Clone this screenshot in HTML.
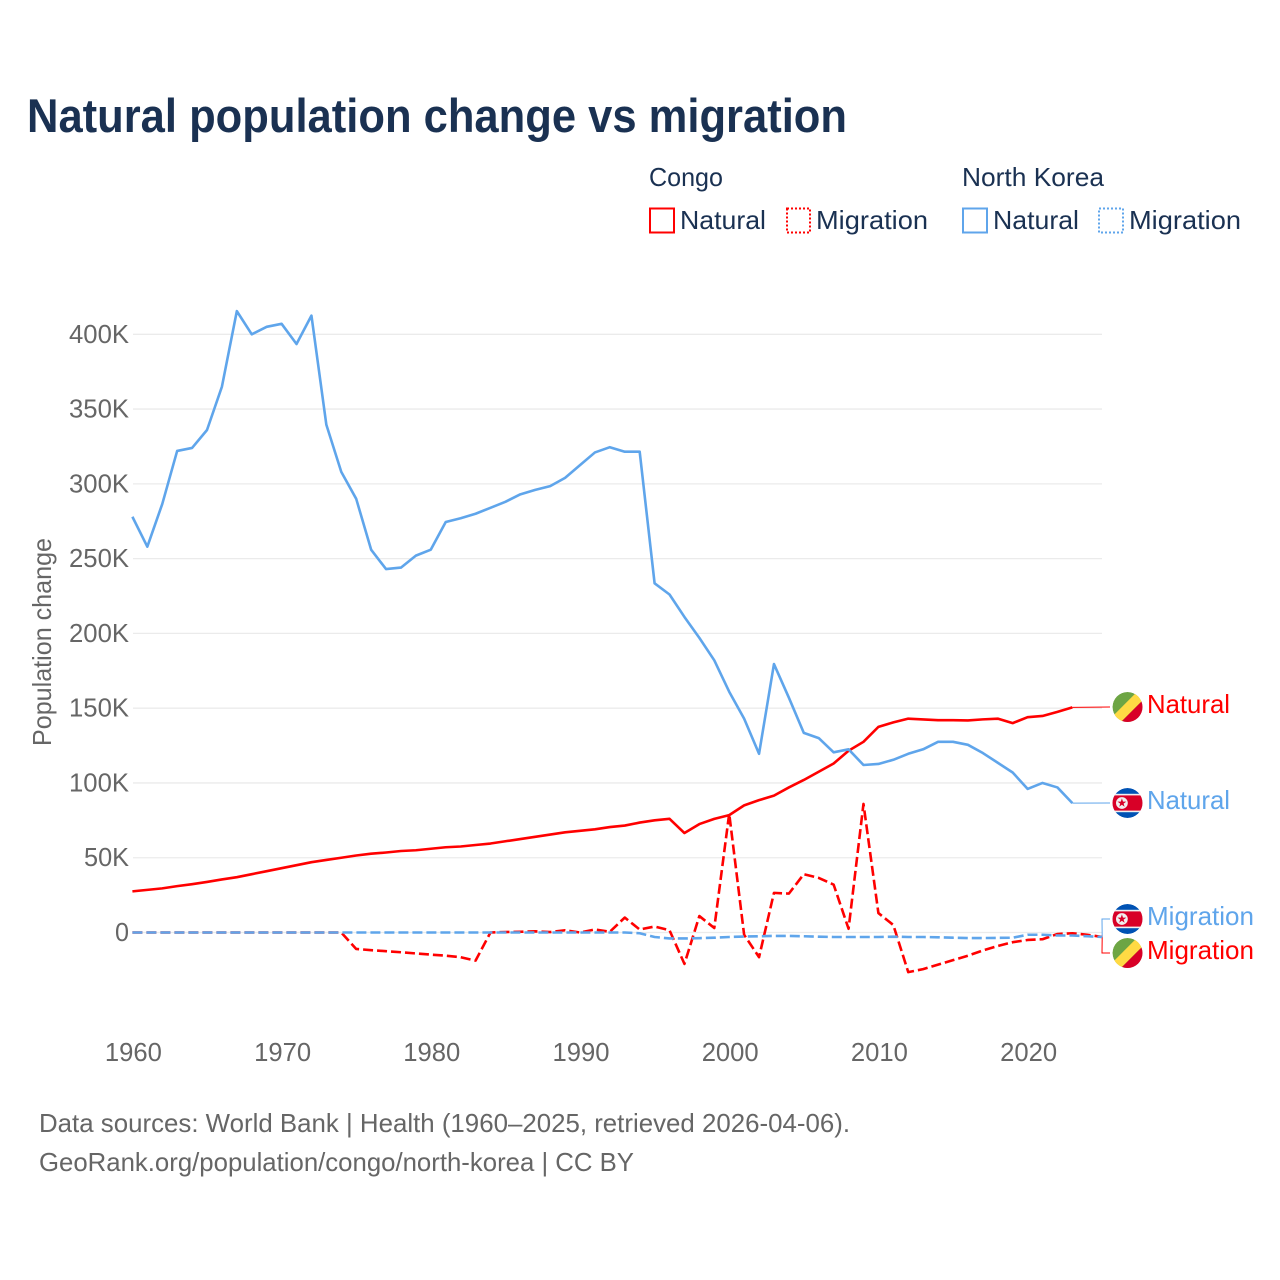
<!DOCTYPE html>
<html lang="en">
<head>
<meta charset="utf-8">
<title>Natural population change vs migration</title>
<style>
html,body{margin:0;padding:0;background:#fff;}
svg{display:block;}
text{font-family:"Liberation Sans",sans-serif;}
</style>
</head>
<body>
<svg id="chart" xmlns="http://www.w3.org/2000/svg" width="1280" height="1280" viewBox="0 0 1280 1280">
  <defs>
    <clipPath id="flag-clip"><circle cx="0" cy="0" r="15"/></clipPath>
    <g id="flag-congo" clip-path="url(#flag-clip)">
      <circle r="15" fill="#6da544"/>
      <g transform="rotate(-45)">
        <rect x="-25" y="-4" width="50" height="10" fill="#ffda44"/>
        <rect x="-25" y="6" width="50" height="20" fill="#d80027"/>
      </g>
    </g>
    <g id="flag-nk" clip-path="url(#flag-clip)">
      <circle r="15" fill="#0052b4"/>
      <rect x="-15" y="-9.2" width="30" height="18.4" fill="#f0f0f0"/>
      <rect x="-15" y="-7.6" width="30" height="15.2" fill="#d80027"/>
      <circle cx="-5.6" cy="0" r="5.9" fill="#f0f0f0"/>
      <polygon points="-5.6,-4.6 -4.5,-1.4 -1.2,-1.4 -3.9,0.6 -2.9,3.8 -5.6,1.8 -8.3,3.8 -7.3,0.6 -10,-1.4 -6.7,-1.4" fill="#d80027"/>
    </g>
  </defs>
  <rect x="0" y="0" width="1280" height="1280" fill="#fff"/>

  <text x="27" y="132" font-size="47" font-weight="700" fill="#1a3152" textLength="820" lengthAdjust="spacingAndGlyphs">Natural population change vs migration</text>

  <g font-size="26" fill="#1a3152">
    <text x="649" y="186" textLength="74" lengthAdjust="spacingAndGlyphs">Congo</text>
    <text x="962" y="186" textLength="142" lengthAdjust="spacingAndGlyphs">North Korea</text>

    <g>
      <rect x="650" y="208.5" width="24" height="24" fill="none" stroke="#ff0000" stroke-width="2"/>
      <text x="680" y="229" textLength="86" lengthAdjust="spacingAndGlyphs">Natural</text>
    </g>
    <g>
      <rect x="787" y="208.5" width="23" height="24" fill="none" stroke="#ff0000" stroke-width="2" stroke-dasharray="2,2"/>
      <text x="816" y="229" textLength="112" lengthAdjust="spacingAndGlyphs">Migration</text>
    </g>
    <g>
      <rect x="963" y="208.5" width="24" height="24" fill="none" stroke="#5fa5eb" stroke-width="2"/>
      <text x="993" y="229" textLength="86" lengthAdjust="spacingAndGlyphs">Natural</text>
    </g>
    <g>
      <rect x="1099" y="208.5" width="24" height="24" fill="none" stroke="#5fa5eb" stroke-width="2" stroke-dasharray="2,2"/>
      <text x="1129" y="229" textLength="112" lengthAdjust="spacingAndGlyphs">Migration</text>
    </g>
  </g>

  <text transform="translate(51,642) rotate(-90)" text-anchor="middle" font-size="26" fill="#666" textLength="208" lengthAdjust="spacingAndGlyphs">Population change</text>

  <g id="grid"></g>
  <g id="y-labels"></g>
  <g id="x-labels"></g>
  <g id="leaders"></g>
  <g id="series"></g>

  <use href="#flag-congo" x="1127.5" y="707"/>
  <use href="#flag-nk" x="1127.5" y="803"/>
  <use href="#flag-nk" x="1127.5" y="919"/>
  <use href="#flag-congo" x="1127.5" y="953"/>

  <text x="1147" y="713" font-size="26" fill="#ff0000" textLength="83" lengthAdjust="spacingAndGlyphs">Natural</text>
  <text x="1147" y="809" font-size="26" fill="#5fa5eb" textLength="83" lengthAdjust="spacingAndGlyphs">Natural</text>
  <text x="1147" y="925" font-size="26" fill="#5fa5eb" textLength="107" lengthAdjust="spacingAndGlyphs">Migration</text>
  <text x="1147" y="959" font-size="26" fill="#ff0000" textLength="107" lengthAdjust="spacingAndGlyphs">Migration</text>

  <text x="39" y="1132" font-size="26" fill="#666" textLength="811" lengthAdjust="spacingAndGlyphs">Data sources: World Bank | Health (1960–2025, retrieved 2026-04-06).</text>
  <text x="39" y="1171" font-size="26" fill="#666" textLength="595" lengthAdjust="spacingAndGlyphs">GeoRank.org/population/congo/north-korea | CC BY</text>
</svg>

<script>
var startYear = 1960;
var yTickValues = [0, 50, 100, 150, 200, 250, 300, 350, 400];
var yTickLabels = ["0", "50K", "100K", "150K", "200K", "250K", "300K", "350K", "400K"];
var xTickValues = [1960, 1970, 1980, 1990, 2000, 2010, 2020];
var xTickLabels = ["1960", "1970", "1980", "1990", "2000", "2010", "2020"];

var congoNatural = [27.5,28.5,29.5,31,32.3,33.8,35.5,37,39,41,43,45,47,48.5,50,51.5,52.7,53.5,54.5,55,56,57,57.5,58.5,59.5,61,62.5,64,65.5,67,68,69,70.5,71.5,73.5,75,76,66.5,72.5,76,78.5,85,88.5,91.5,97,102,107.5,113,121.5,127.5,137.5,140.5,143,142.5,142,142,141.8,142.5,143,140,144,144.8,147.5,150.5];
var northKoreaNatural = [278,258,286.5,322,324,336,365,415.5,400,405,407,393.5,412.5,339.5,308,290,256,243,244,252,256,274.5,277,280,284,288,293,296,298.5,304,312.5,321,324.5,321.5,321.5,233.5,226,211,197,182,161,143,119.5,179.5,157,133.5,130,120.5,122.5,112,112.7,115.5,119.5,122.5,127.5,127.5,125.5,120,113.5,107,96,100,97,86.5];
var congoMigration = [0,0,0,0,0,0,0,0,0,0,0,0,0,0,0,-11,-11.8,-12.5,-13.2,-14,-14.8,-15.5,-16.5,-18.8,0,0.3,0.5,0.8,0.3,1.5,0,2,0.5,10,2,4,1.5,-21,11,3,79.5,-1.5,-16.5,26.5,26,39,36.5,32,2.5,86,13,5,-26.5,-24.5,-21.5,-18.5,-15.5,-12,-9,-6.5,-5,-4.5,-1,-0.5,-1.5,-3];
var northKoreaMigration = [0,0,0,0,0,0,0,0,0,0,0,0,0,0,0,0,0,0,0,0,0,0,0,0,0,0,0,0,0,0,0,0,0,0,-0.5,-3,-4,-4,-3.8,-3.5,-3,-2.7,-2.5,-2.3,-2.3,-2.5,-2.8,-3,-3,-3,-3,-2.8,-3,-3,-3.2,-3.5,-3.7,-3.7,-3.6,-3.5,-1.5,-1.5,-2,-2,-2.5,-3];

var NS = "http://www.w3.org/2000/svg";
function xScale(year) { return 132.4 + (year - 1960) * 14.92; }
function yScale(v) { return 932.5 - v * 1.4955; }

function make(parent, tag, attrs, text) {
  var el = document.createElementNS(NS, tag);
  for (var k in attrs) el.setAttribute(k, attrs[k]);
  if (text !== undefined) el.textContent = text;
  parent.appendChild(el);
  return el;
}

var gridGroup = document.getElementById("grid");
var yLabelGroup = document.getElementById("y-labels");
var xLabelGroup = document.getElementById("x-labels");
var seriesGroup = document.getElementById("series");
var leaderGroup = document.getElementById("leaders");

yTickValues.forEach(function (v, i) {
  var line = make(gridGroup, "line", {x1: 133, x2: 1102, y1: yScale(v), y2: yScale(v), stroke: "#ebebeb", "stroke-width": 1.3});
  
  
  var label = yTickLabels[i];
  var w = label.length === 1 ? 14 : label.length === 3 ? 45 : 60;
  var t = make(yLabelGroup, "text", {x: 129, y: yScale(v) + 8.5, "text-anchor": "end", "font-size": 26, fill: "#666", textLength: w, lengthAdjust: "spacingAndGlyphs"}, label);
  
  
});

xTickValues.forEach(function (yr, i) {
  var t = make(xLabelGroup, "text", {x: xScale(yr) + 1, y: 1061, "text-anchor": "middle", "font-size": 26, fill: "#666", textLength: 57, lengthAdjust: "spacingAndGlyphs"}, xTickLabels[i]);
  
  
});

function pathFor(values) {
  return values.map(function (v, i) {
    return (i ? "L" : "M") + xScale(startYear + i).toFixed(2) + " " + yScale(v).toFixed(2);
  }).join(" ");
}

function lastX(values) { return xScale(startYear + values.length - 1); }
function lastY(values) { return yScale(values[values.length - 1]); }

var p1 = make(seriesGroup, "path", {d: pathFor(congoNatural), fill: "none", stroke: "#ff0000", "stroke-width": 2.6, "stroke-linejoin": "round"});



var p2 = make(seriesGroup, "path", {d: pathFor(congoMigration), fill: "none", stroke: "#ff0000", "stroke-width": 2.6, "stroke-dasharray": "10,4", "stroke-linejoin": "round"});



var p3 = make(seriesGroup, "path", {d: pathFor(northKoreaNatural), fill: "none", stroke: "#5fa5eb", "stroke-width": 2.6, "stroke-linejoin": "round"});



var p4 = make(seriesGroup, "path", {d: pathFor(northKoreaMigration), fill: "none", stroke: "#5fa5eb", "stroke-width": 2.6, "stroke-dasharray": "10,4", "stroke-linejoin": "round"});



var c1 = make(leaderGroup, "path", {d: "M" + lastX(congoNatural) + " " + lastY(congoNatural) + " L1110 707", fill: "none", stroke: "#ff0000", "stroke-width": 1});



var c2 = make(leaderGroup, "path", {d: "M" + lastX(northKoreaNatural) + " " + lastY(northKoreaNatural) + " L1110 803", fill: "none", stroke: "#5fa5eb", "stroke-width": 1});



var c3 = make(leaderGroup, "path", {d: "M" + lastX(northKoreaMigration) + " " + lastY(northKoreaMigration) + " L1102 919 L1110 919", fill: "none", stroke: "#5fa5eb", "stroke-width": 1});



var c4 = make(leaderGroup, "path", {d: "M" + lastX(congoMigration) + " " + lastY(congoMigration) + " L1102 953 L1110 953", fill: "none", stroke: "#ff0000", "stroke-width": 1});


</script>
</body>
</html>
